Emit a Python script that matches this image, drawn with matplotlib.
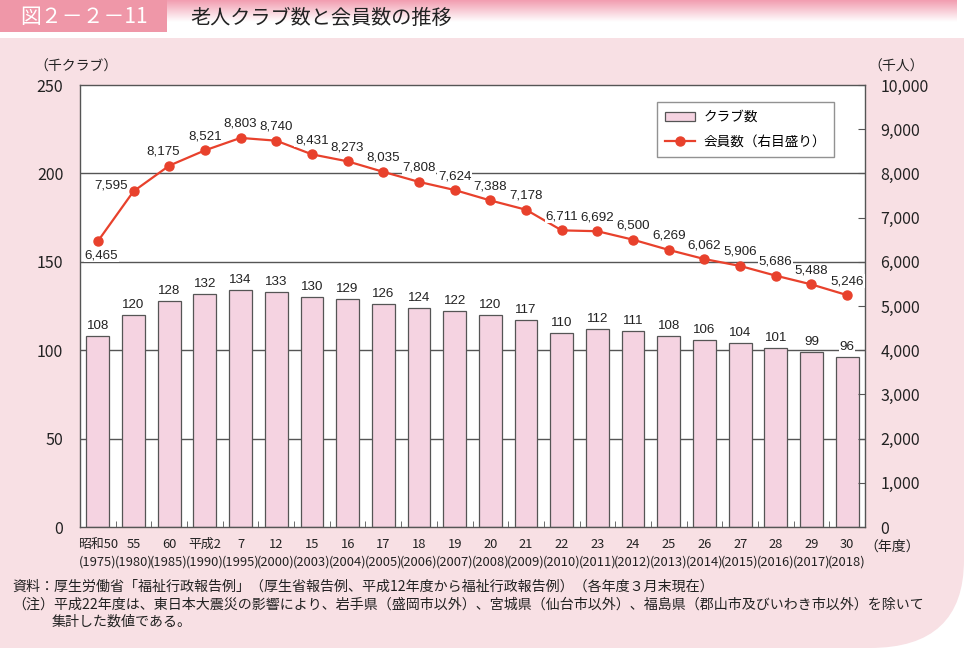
import matplotlib
matplotlib.use("Agg")
import matplotlib.pyplot as plt
from matplotlib.patches import Rectangle, PathPatch
from matplotlib.path import Path
from matplotlib.lines import Line2D
from matplotlib.ticker import FuncFormatter
from matplotlib.colors import LinearSegmentedColormap
from matplotlib import font_manager
import numpy as np

plt.rcParams['font.family'] = ['Noto Sans CJK JP', 'DejaVu Sans']

era_labels = ["昭和50", "55", "60", "平成2", "7", "12", "15", "16", "17", "18", "19",
              "20", "21", "22", "23", "24", "25", "26", "27", "28", "29", "30"]
years = ["1975", "1980", "1985", "1990", "1995", "2000", "2003", "2004", "2005", "2006", "2007",
         "2008", "2009", "2010", "2011", "2012", "2013", "2014", "2015", "2016", "2017", "2018"]
clubs = [108, 120, 128, 132, 134, 133, 130, 129, 126, 124, 122,
         120, 117, 110, 112, 111, 108, 106, 104, 101, 99, 96]
members = [6465, 7595, 8175, 8521, 8803, 8740, 8431, 8273, 8035, 7808, 7624,
           7388, 7178, 6711, 6692, 6500, 6269, 6062, 5906, 5686, 5488, 5246]

names = {f.name for f in font_manager.fontManager.ttflist}
num_family = ["Liberation Sans Narrow"] if "Liberation Sans Narrow" in names else ["Liberation Sans"]
num_size = 10.8 if "Liberation Sans Narrow" in names else 9.6

W, H = 964, 650
fig = plt.figure(figsize=(W / 100, H / 100), dpi=100)
fig.patch.set_facecolor("white")

def fx(x):
    return x / W

def fy(y):
    return 1 - y / H

panel_col = "#F8E0E4"
bg = fig.add_axes([0, 0, 1, 1], zorder=-10)
bg.set_xlim(0, 1)
bg.set_ylim(0, 1)
bg.axis("off")
verts = [(fx(0), fy(38)), (fx(964), fy(38)), (fx(964), fy(560)),
         (fx(964), fy(648)), (fx(870), fy(648)), (fx(0), fy(648)), (fx(0), fy(38))]
codes = [Path.MOVETO, Path.LINETO, Path.LINETO, Path.CURVE3, Path.CURVE3, Path.LINETO, Path.CLOSEPOLY]
bg.add_patch(PathPatch(Path(verts, codes), facecolor=panel_col, edgecolor="none"))
bg.add_patch(Rectangle((0, fy(32)), fx(167), fy(0) - fy(32), facecolor="#EF97A8", edgecolor="none"))

hax = fig.add_axes([fx(167), fy(22), fx(790), fy(0) - fy(22)], zorder=-9)
grad = np.linspace(0, 1, 50).reshape(-1, 1)
cm = LinearSegmentedColormap.from_list("g", ["#F29DB0", "#FFFFFF"])
hax.imshow(grad, aspect="auto", cmap=cm, extent=[0, 1, 1, 0])
hax.axis("off")
fig.text(fx(20), fy(17), "図２－２－11", color="white", fontsize=15, va="center", ha="left")
fig.text(fx(190), fy(18), "老人クラブ数と会員数の推移", color="#222222", fontsize=14.5,
         va="center", ha="left")

# main axes
ax = fig.add_axes([fx(80), fy(527), fx(865) - fx(80), fy(85) - fy(527)])
ax.set_facecolor("white")
x = np.arange(len(clubs))
ax.set_xlim(-0.5, len(clubs) - 0.5)
ax.set_ylim(0, 250)
for g in [50, 100, 150, 200]:
    ax.axhline(g, color="#555555", lw=1.0, zorder=1)
bars = ax.bar(x, clubs, width=0.64, color="#F5D3E1", edgecolor="#555555", linewidth=0.9, zorder=2)
for xi, v in zip(x, clubs):
    ax.annotate(str(v), (xi, v), xytext=(0, 4), textcoords="offset pixels",
                ha="center", va="bottom", fontsize=num_size, family=num_family,
                color="#222222", zorder=5,
                bbox=dict(boxstyle="square,pad=0.05", fc="white", ec="none"))

for s in ax.spines.values():
    s.set_color("#555555")
    s.set_linewidth(1.0)
ax.set_yticks([0, 50, 100, 150, 200, 250])
ax.tick_params(axis="y", length=0, labelsize=11.5, pad=12, labelcolor="#222222")
ax.set_xticks(x)
ax.set_xticklabels([f"{e}\n({y})" for e, y in zip(era_labels, years)], fontsize=9.3,
                   linespacing=1.4, color="#222222")
ax.tick_params(axis="x", which="major", length=0, pad=8)
ax.set_xticks(np.arange(0.5, len(clubs) - 1, 1.0), minor=True)
ax.tick_params(axis="x", which="minor", direction="in", length=4, color="#555555")

ax2 = ax.twinx()
ax2.set_ylim(0, 10000)
ax2.set_yticks(np.arange(0, 10001, 1000))
ax2.yaxis.set_major_formatter(FuncFormatter(lambda v, p: f"{int(v):,}"))
ax2.tick_params(axis="y", direction="in", length=5, color="#555555", labelsize=11.5, pad=11,
                labelcolor="#222222")
for s in ax2.spines.values():
    s.set_visible(False)
line_col = "#E8412C"
ax2.plot(x, members, color=line_col, lw=1.6, marker="o", markersize=6.5, zorder=4)
special = {0: (-13, -8, "left", "top"), 1: (-22, 0, "center", "bottom"), 2: (-6, 8, "center", "bottom")}
for i, (xi, v) in enumerate(zip(x, members)):
    dx, dy, ha, va = special.get(i, (0, 8, "center", "bottom"))
    ax2.annotate(f"{v:,}", (xi, v), xytext=(dx, dy), textcoords="offset pixels",
                 ha=ha, va=va, fontsize=num_size, family=num_family, color="#222222", zorder=6,
                 bbox=dict(boxstyle="square,pad=0.05", fc="white", ec="none"))

# legend
h1 = Rectangle((0, 0), 1, 1, facecolor="#F5D3E1", edgecolor="#555555", linewidth=0.9)
h2 = Line2D([], [], color=line_col, lw=1.6, marker="o", markersize=6.5)
leg = ax2.legend([h1, h2], ["クラブ数", "会員数（右目盛り）"], loc="upper left",
                 bbox_to_anchor=((657 - 80) / 785, 1 - (102 - 85) / 442), fontsize=9.8,
                 frameon=True, fancybox=False, edgecolor="#777777", borderpad=0.6,
                 handlelength=2.2, handletextpad=0.6, labelspacing=0.75, borderaxespad=0)
leg.get_frame().set_linewidth(1.0)

# axis unit labels
fig.text(fx(34), fy(67), "（千クラブ）", fontsize=10, va="center", ha="left", color="#222222")
fig.text(fx(868), fy(67), "（千人）", fontsize=10, va="center", ha="left", color="#222222")
fig.text(fx(864), fy(547), "（年度）", fontsize=10, va="center", ha="left", color="#222222")

# footer
fs = 10.1
fig.text(fx(12), fy(587), "資料：厚生労働省「福祉行政報告例」（厚生省報告例、平成12年度から福祉行政報告例）（各年度３月末現在）",
         fontsize=fs, va="center", ha="left", color="#222222")
fig.text(fx(12), fy(605), "（注）平成22年度は、東日本大震災の影響により、岩手県（盛岡市以外）、宮城県（仙台市以外）、福島県（郡山市及びいわき市以外）を除いて",
         fontsize=fs, va="center", ha="left", color="#222222")
fig.text(fx(52), fy(622), "集計した数値である。", fontsize=fs, va="center", ha="left", color="#222222")

fig.savefig("out.png", dpi=100, facecolor=fig.get_facecolor())
